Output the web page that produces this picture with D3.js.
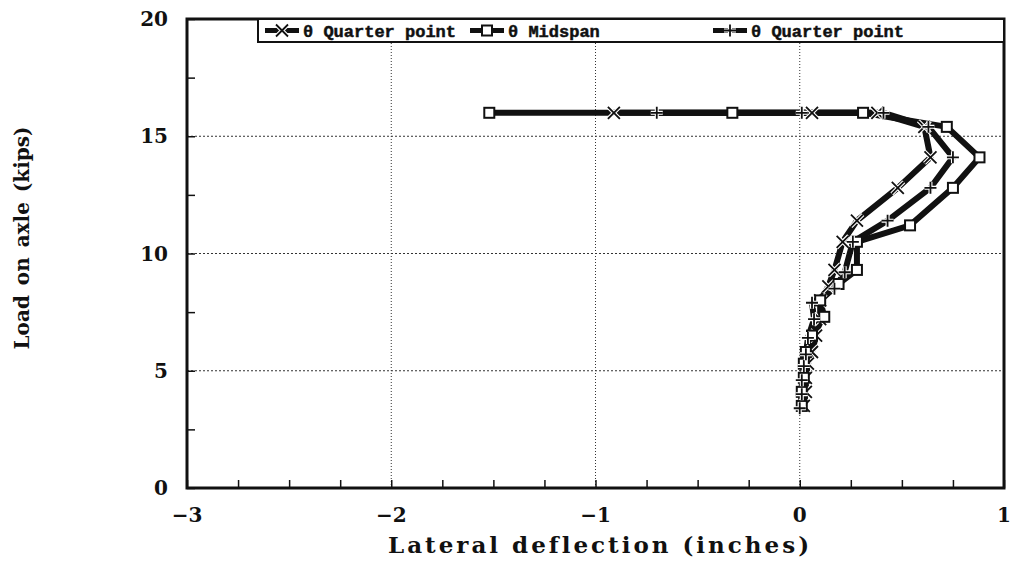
<!DOCTYPE html>
<html>
<head>
<meta charset="utf-8">
<script src="https://cdn.jsdelivr.net/npm/d3@7"></script>
<style>
  body { margin: 0; background: #fff; }
  svg text { font-family: "DejaVu Serif", serif; font-weight: bold; fill: #111; }
  .legend text { font-family: "Liberation Mono", monospace; stroke: #111; stroke-width: 0.5px; }
</style>
</head>
<body>
<svg id="chart" width="1011" height="569"></svg>
<script>
// loads (kips) and lateral deflections (inches)
const loadsQ1 = [3.5, 4.1, 4.7, 5.3, 5.8, 6.5, 7.2, 8.0, 8.6, 9.3, 10.5, 11.4, 12.8, 14.1, 15.4, 16, 16, 16];
const deflQ1  = [0.02, 0.03, 0.03, 0.04, 0.06, 0.08, 0.10, 0.10, 0.14, 0.17, 0.21, 0.28, 0.48, 0.64, 0.61, 0.38, 0.06, -0.91];

const loadsMid = [3.5, 4.1, 4.7, 5.3, 5.8, 6.5, 7.3, 8.0, 8.7, 9.3, 10.5, 11.2, 12.8, 14.1, 15.4, 16, 16, 16];
const deflMid  = [0.01, 0.01, 0.02, 0.02, 0.03, 0.06, 0.12, 0.10, 0.19, 0.28, 0.28, 0.54, 0.75, 0.88, 0.72, 0.31, -0.33, -1.52];

const loadsQ2 = [3.4, 4.0, 4.6, 5.2, 5.7, 6.4, 7.2, 7.9, 8.5, 9.2, 10.5, 11.4, 12.8, 14.1, 15.4, 16, 16, 16];
const deflQ2  = [0.00, 0.01, 0.01, 0.02, 0.03, 0.04, 0.07, 0.06, 0.17, 0.22, 0.26, 0.43, 0.64, 0.75, 0.63, 0.41, 0.01, -0.70];

const seriesNames = ["Quarter point", "Midspan", "Quarter point"];
const seriesMarks = ["cross", "square", "plus"];
const xTicks = [-3, -2, -1, 0, 1];
const yTicks = [0, 5, 10, 15, 20];

const svg = d3.select("#chart");
const plotL = 187, plotR = 1004, plotT = 19, plotB = 488;

const x = d3.scaleLinear().domain([-3, 1]).range([plotL, plotR]);
const y = d3.scaleLinear().domain([0, 20]).range([plotB, plotT]);

// dotted grid
svg.append("g").selectAll("line").data([-2, -1, 0]).join("line")
  .attr("x1", d => x(d)).attr("x2", d => x(d))
  .attr("y1", plotT).attr("y2", plotB)
  .attr("stroke", "#333").attr("stroke-width", 1).attr("stroke-dasharray", "1,2");
svg.append("g").selectAll("line").data([5, 10, 15]).join("line")
  .attr("y1", d => y(d)).attr("y2", d => y(d))
  .attr("x1", plotL).attr("x2", plotR)
  .attr("stroke", "#333").attr("stroke-width", 1).attr("stroke-dasharray", "2,2");

// inner ticks
const xAxis = d3.axisTop(x).tickValues(d3.range(-3, 1.01, 0.25)).tickSize(8).tickFormat("");
svg.append("g").attr("transform", `translate(0,${plotB})`).call(xAxis)
  .call(g => g.select(".domain").remove())
  .selectAll("line").attr("stroke", "#111").attr("stroke-width", 1.5);
const yAxis = d3.axisRight(y).tickValues(d3.range(0, 20.01, 2.5)).tickSize(8).tickFormat("");
svg.append("g").attr("transform", `translate(${plotL},0)`).call(yAxis)
  .call(g => g.select(".domain").remove())
  .selectAll("line").attr("stroke", "#111").attr("stroke-width", 1.5);

// tick labels
svg.append("g").selectAll("text").data(xTicks).join("text")
  .attr("x", d => x(d)).attr("y", 522)
  .attr("text-anchor", "middle").style("font-size", "20px")
  .text(d => d < 0 ? "\u2212" + Math.abs(d) : d);
svg.append("g").selectAll("text").data(yTicks).join("text")
  .attr("x", 168).attr("y", d => y(d) + 7)
  .attr("text-anchor", "end").style("font-size", "20px")
  .text(d => d);

// axis titles
svg.append("text").attr("x", 600).attr("y", 553)
  .attr("text-anchor", "middle").style("font-size", "23px").style("letter-spacing", "3px")
  .text("Lateral deflection (inches)");
svg.append("text").attr("transform", "translate(29,238) rotate(-90)")
  .attr("text-anchor", "middle").style("font-size", "20px").style("word-spacing", "3px")
  .text("Load on axle (kips)");

// series
const series = [
  loadsQ1.map((l, i) => [deflQ1[i], l]),
  loadsMid.map((l, i) => [deflMid[i], l]),
  loadsQ2.map((l, i) => [deflQ2[i], l])
];
const line = d3.line().x(d => x(d[0])).y(d => y(d[1]));

function drawMark(g, type, cx, cy) {
  if (type === "square") {
    g.append("rect").attr("x", cx - 5).attr("y", cy - 5).attr("width", 10).attr("height", 10)
      .attr("fill", "#fff").attr("stroke", "#111").attr("stroke-width", 2);
  } else if (type === "cross") {
    g.append("path").attr("d", `M${cx-6},${cy-6}L${cx+6},${cy+6}M${cx-6},${cy+6}L${cx+6},${cy-6}`)
      .attr("stroke", "#fff").attr("stroke-width", 4);
    g.append("path").attr("d", `M${cx-6},${cy-6}L${cx+6},${cy+6}M${cx-6},${cy+6}L${cx+6},${cy-6}`)
      .attr("stroke", "#111").attr("stroke-width", 1.8);
  } else {
    g.append("path").attr("d", `M${cx-6},${cy}L${cx+6},${cy}M${cx},${cy-6}L${cx},${cy+6}`)
      .attr("stroke", "#fff").attr("stroke-width", 4);
    g.append("path").attr("d", `M${cx-6},${cy}L${cx+6},${cy}M${cx},${cy-6}L${cx},${cy+6}`)
      .attr("stroke", "#111").attr("stroke-width", 1.8);
  }
}

series.forEach((pts, i) => {
  svg.append("path").datum(pts).attr("d", line)
    .attr("fill", "none").attr("stroke", "#111").attr("stroke-width", 6)
    .attr("stroke-linejoin", "round");
});
series.forEach((pts, i) => {
  const g = svg.append("g");
  pts.forEach(p => drawMark(g, seriesMarks[i], x(p[0]), y(p[1])));
});

// frame
svg.append("rect").attr("x", plotL).attr("y", plotT).attr("width", plotR - plotL).attr("height", plotB - plotT)
  .attr("fill", "none").attr("stroke", "#111").attr("stroke-width", 3);

// legend
const legend = svg.append("g").attr("class", "legend");
legend.append("rect").attr("x", 258).attr("y", plotT).attr("width", plotR - 258).attr("height", 23)
  .attr("fill", "#fff").attr("stroke", "#111").attr("stroke-width", 2);
const legendX = [265, 470, 713];
seriesNames.forEach((name, i) => {
  const lx = legendX[i], ly = plotT + 11.5;
  legend.append("line").attr("x1", lx).attr("x2", lx + 34).attr("y1", ly).attr("y2", ly)
    .attr("stroke", "#111").attr("stroke-width", 5);
  drawMark(legend, seriesMarks[i], lx + 17, ly);
  legend.append("text").attr("x", lx + 38).attr("y", ly + 6)
    .style("font-size", "17px").text("\u03b8 " + name);
});
</script>
</body>
</html>
